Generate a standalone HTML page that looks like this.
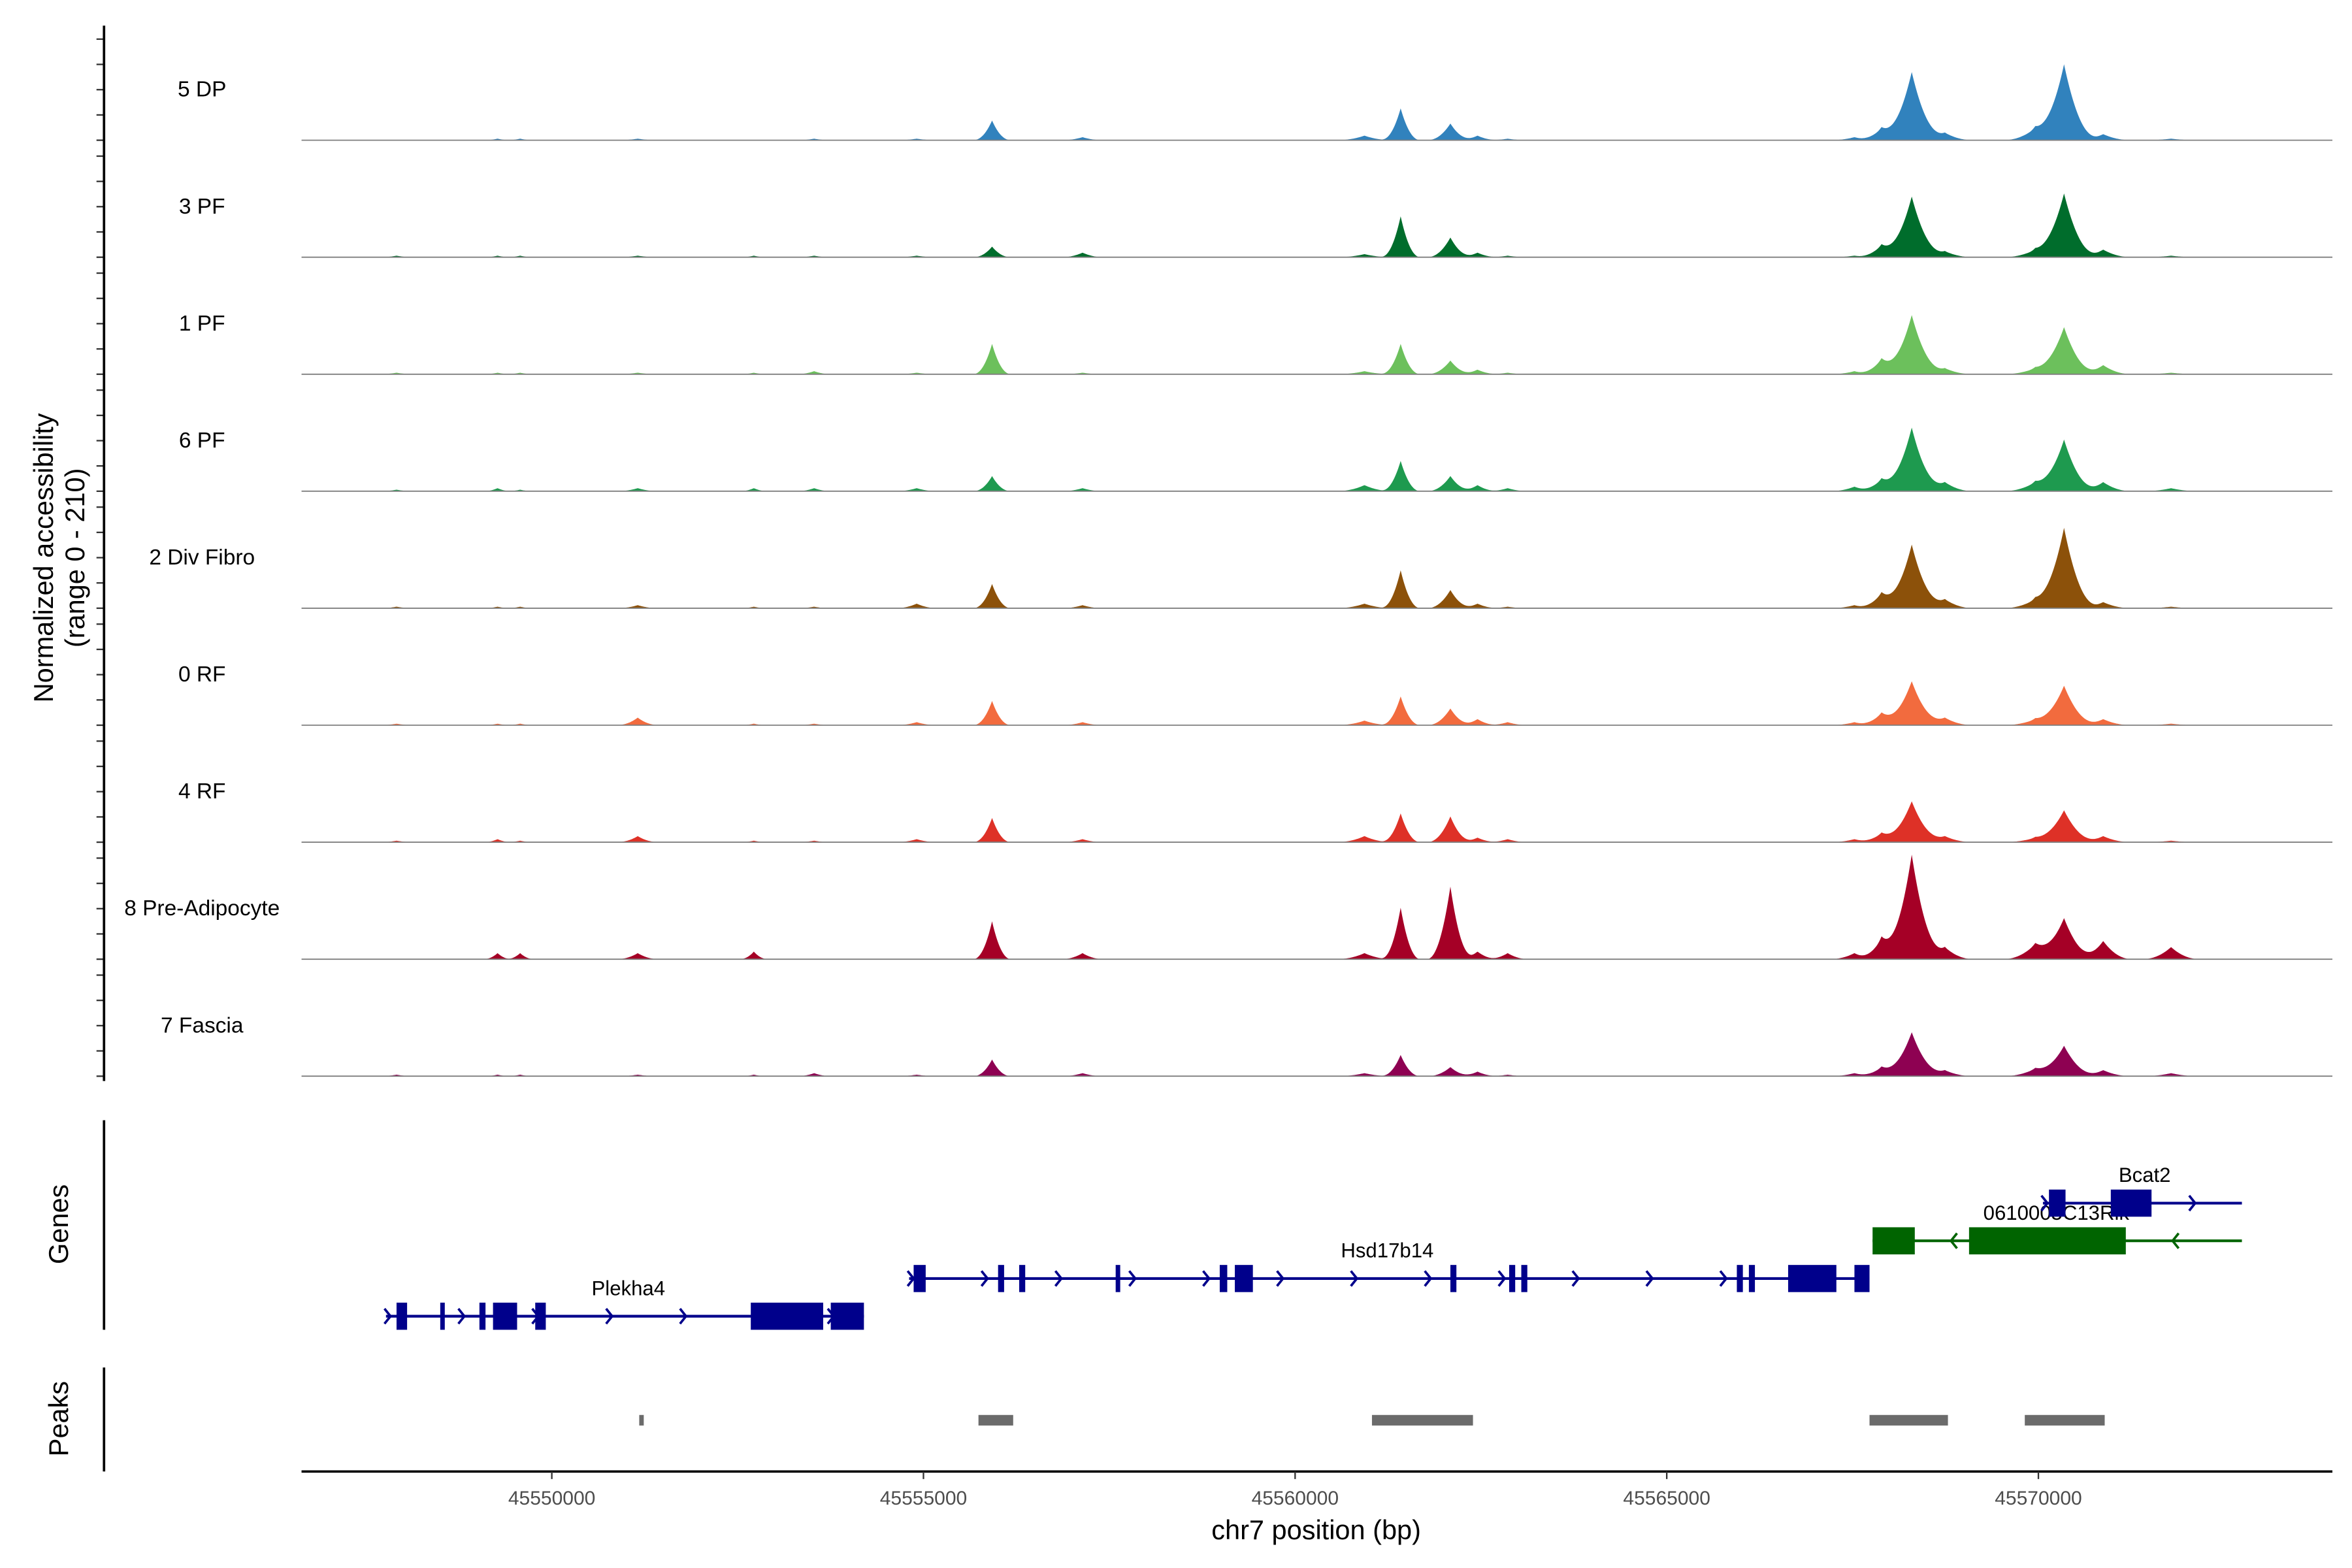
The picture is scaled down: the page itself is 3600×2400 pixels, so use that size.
<!DOCTYPE html>
<html><head><meta charset="utf-8"><style>
html,body{margin:0;padding:0;background:#fff;}
svg{display:block;font-family:"Liberation Sans",Arial,sans-serif;}
</style></head><body>
<svg id="chart" width="3600" height="2400" viewBox="0 0 1560 1040" xmlns="http://www.w3.org/2000/svg">
<rect width="1560" height="1040" fill="#fff"/>
<g id="tracks"></g>
<g id="genes"></g>
<g id="peaks"></g>
<g id="axes"></g>
<text transform="translate(35,370) rotate(-90)" text-anchor="middle" font-size="18" fill="#000">Normalized accessibility</text>
<text transform="translate(56,370) rotate(-90)" text-anchor="middle" font-size="18" fill="#000">(range 0 - 210)</text>
<text transform="translate(45,812) rotate(-90)" text-anchor="middle" font-size="18" fill="#000">Genes</text>
<text transform="translate(45,941) rotate(-90)" text-anchor="middle" font-size="18" fill="#000">Peaks</text>
<text x="873" y="1021" text-anchor="middle" font-size="18" fill="#000">chr7 position (bp)</text>
</svg>
<script>
const trackNames = ["5 DP","3 PF","1 PF","6 PF","2 Div Fibro","0 RF","4 RF","8 Pre-Adipocyte","7 Fascia"];
const trackColors = ["#3182bd","#006d2c","#6cc05c","#1e9a4f","#8c510a","#f26b3e","#de3127","#a50026","#8e0152"];
const peakCenters = [45547911,45549270,45549574,45551156,45552718,45553529,45554909,45555923,45557140,45560933,45561420,45562089,45562454,45562860,45567525,45567890,45568296,45568742,45569959,45570345,45570872,45571785];
const peakHalfWidths = [250,200,200,300,200,250,300,260,300,400,270,320,300,300,350,350,480,400,450,480,400,400];
const trackValues = [
 [0,3,3,3,0,3,3,39,6,9,63,33,9,3,6,24,135,15,24,150,12,3],
 [3,3,3,3,3,3,3,21,9,6,81,39,9,3,3,24,120,12,15,126,15,3],
 [3,3,3,3,3,6,3,60,3,6,60,27,9,3,6,30,117,12,12,93,18,3],
 [3,6,3,6,6,6,6,30,6,12,60,30,12,6,9,24,126,18,18,102,18,6],
 [3,3,3,6,3,3,9,48,6,9,75,36,9,3,6,30,126,18,18,159,12,3],
 [3,3,3,15,3,3,6,48,6,9,57,33,12,6,6,24,87,15,12,78,12,3],
 [3,6,3,12,3,3,6,48,6,12,57,51,9,6,6,18,81,12,9,63,12,3],
 [0,12,12,12,15,0,0,75,12,12,102,144,15,12,12,42,207,24,30,81,36,24],
 [3,3,3,3,3,6,3,33,6,6,42,18,9,3,6,18,87,12,15,60,12,6]
];
const yTicks = [0,50,100,150,200];
const xTicks = [45550000,45555000,45560000,45565000,45570000];
const genes = [
 {name:"Plekha4",strand:1,row:3,start:45547769,end:45554199,color:"#00008b",labelX:45551030,
  exons:[[45547911,45548053],[45548499,45548560],[45549026,45549108],[45549209,45549533],[45549777,45549919],[45552677,45553651],[45553753,45554199]]},
 {name:"Hsd17b14",strand:1,row:2,start:45554807,end:45567728,color:"#00008b",labelX:45561240,
  exons:[[45554868,45555030],[45556004,45556085],[45556288,45556369],[45557586,45557647],[45558986,45559087],[45559189,45559432],[45562089,45562170],[45562880,45562961],[45563043,45563124],[45565943,45566024],[45566105,45566186],[45566633,45567282],[45567525,45567728]]},
 {name:"0610005C13Rik",strand:-1,row:1,start:45567769,end:45572738,color:"#006400",labelX:45570240,
  exons:[[45567769,45568337],[45569067,45571176]]},
 {name:"Bcat2",strand:1,row:0,start:45570061,end:45572738,color:"#00008b",labelX:45571430,
  exons:[[45570142,45570365],[45570974,45571522]]}
];
const peakRegions = [[45551176,45551237],[45555740,45556207],[45561034,45562393],[45567728,45568783],[45569817,45570892]];

const NS="http://www.w3.org/2000/svg";
function mk(tag,attrs,parent){const e=document.createElementNS(NS,tag);for(const k in attrs)e.setAttribute(k,attrs[k]);parent.appendChild(e);return e;}
const X0=200,X1=1547;
function xs(bp){return 366+(bp-45550000)*0.0493;}
const trackBase0=93, trackStep=77.6, trackH=70.4;
function ys(v,i){return trackBase0+i*trackStep - v/210*trackH;}

const tg=document.getElementById('tracks');
trackNames.forEach((nm,i)=>{
  const g=mk('g',{},tg);
  
  
  const vals=trackValues[i];
  let d='M'+X0+','+ys(0,i);
  for(let px=X0;px<=X1;px+=0.5){
    const bp=45550000+(px-366)/0.0493;
    let v=0;
    for(let k=0;k<peakCenters.length;k++){
      const t=Math.abs(bp-peakCenters[k])/peakHalfWidths[k];
      if(t<1)v+=vals[k]*Math.pow(1-t,2.2);
    }
    d+='L'+px.toFixed(1)+','+ys(Math.min(v,210),i).toFixed(2);
  }
  d+='L'+X1+','+ys(0,i)+'Z';
  const a=mk('path',{d:d,fill:trackColors[i],stroke:'none'},g);
  
  
  const bl=mk('line',{x1:X0,x2:X1,y1:ys(0,i),y2:ys(0,i),stroke:'#7f7f7f','stroke-width':0.8},g);
  
  
  const lb=mk('text',{x:134,y:ys(0,i)-29,'text-anchor':'middle','font-size':14.5,fill:'#000'},g);
  
  
  lb.textContent=nm;
  yTicks.forEach(t=>{
    const tk=mk('line',{x1:64,x2:69,y1:ys(t,i),y2:ys(t,i),stroke:'#333','stroke-width':1},g);
    
    
  });
});

const ax=document.getElementById('axes');
function line(x1,y1,x2,y2,w,c,name){const l=mk('line',{x1,y1,x2,y2,stroke:c,'stroke-width':w},ax);return l;}
line(69,17,69,717,1.6,'#000','y-axis-line');
line(69,743,69,882,1.6,'#000','genes-axis-line');
line(69,907,69,976,1.6,'#000','peaks-axis-line');
line(200,976,1547,976,1.6,'#000','x-axis-line');
xTicks.forEach(t=>{
  line(xs(t),976,xs(t),981,1,'#333','x-tick');
  const tx=mk('text',{x:xs(t),y:998,'text-anchor':'middle','font-size':13,fill:'#4d4d4d'},ax);
  
  
  tx.textContent=t;
});

const gg=document.getElementById('genes');
const rowY=[798,823,848,873];
genes.forEach(ge=>{
  const g=mk('g',{},gg);
  
  
  const y=rowY[ge.row];
  mk('line',{x1:xs(ge.start),x2:xs(ge.end),y1:y,y2:y,stroke:ge.color,'stroke-width':1.8},g);
  // strand chevrons
  const x1=xs(ge.start),x2=xs(ge.end);
  for(let x=x1+3;x<=x2+1;x+=49){
    const s=ge.strand;
    mk('polyline',{points:(x-4*s)+','+(y-5)+' '+x+','+y+' '+(x-4*s)+','+(y+5),fill:'none',stroke:ge.color,'stroke-width':1.6},g);
  }
  ge.exons.forEach(e=>{
    const r=mk('rect',{x:xs(e[0]),y:y-9,width:Math.max(3,xs(e[1])-xs(e[0])),height:18,fill:ge.color},g);
    
    
  });
  const t=mk('text',{x:xs(ge.labelX),y:y-14,'text-anchor':'middle','font-size':13.5,fill:'#000'},g);
  
  
  t.textContent=ge.name;
});

const pg=document.getElementById('peaks');
peakRegions.forEach(p=>{
  const r=mk('rect',{x:xs(p[0]),y:938.5,width:Math.max(2.5,xs(p[1])-xs(p[0])),height:7,fill:'#6b6b6b'},pg);
  
  
});
</script>
</body></html>
